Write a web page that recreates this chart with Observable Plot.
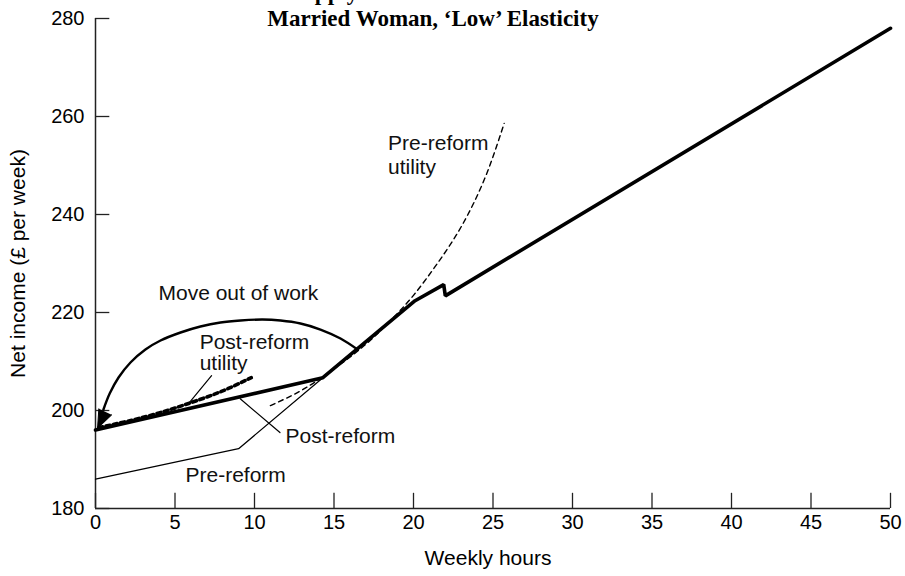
<!DOCTYPE html>
<html>
<head>
<meta charset="utf-8">
<script src="https://cdn.jsdelivr.net/npm/d3@7"></script>
<script src="https://cdn.jsdelivr.net/npm/@observablehq/plot@0.6"></script>
<style>
  html, body { margin: 0; padding: 0; background: #fff; }
  #wrap { position: relative; width: 905px; height: 576px; overflow: hidden; }
  #title { position: absolute; left: 0; top: -20px; width: 866px; text-align: center;
    font-family: "Liberation Serif", "Times New Roman", serif; font-weight: bold;
    font-size: 23px; line-height: 26px; color: #000; z-index: 2; }
</style>
</head>
<body>
<div id="wrap">
  <div id="title">Labour Supply Effects of the WFTC Reform:<br>Married Woman, ‘Low’ Elasticity</div>
  <div id="chart"></div>
</div>
<script>
// ---- data (weekly hours, net income £/week) ----
const xTicks = [0, 5, 10, 15, 20, 25, 30, 35, 40, 45, 50];
const yTicks = [180, 200, 220, 240, 260, 280];

const postReformBudget = [
  {h: 0, inc: 196.0}, {h: 14.3, inc: 206.7}, {h: 20.1, inc: 222.4},
  {h: 21.9, inc: 225.7}, {h: 22.0, inc: 223.4}, {h: 50, inc: 278.0}
];
const preReformBudget = [
  {h: 0, inc: 186.0}, {h: 9.0, inc: 192.2}, {h: 14.3, inc: 206.7}
];
const preReformUtility = [
  {h: 11.0, inc: 201.0}, {h: 13.0, inc: 204.2}, {h: 15.0, inc: 208.5},
  {h: 17.0, inc: 213.5}, {h: 18.6, inc: 218.5}, {h: 20.0, inc: 223.5},
  {h: 21.5, inc: 230.0}, {h: 23.0, inc: 237.5}, {h: 24.5, inc: 247.5},
  {h: 25.7, inc: 258.6}
];
const postReformUtility = [
  {h: 0.2, inc: 196.5}, {h: 2, inc: 197.8}, {h: 4, inc: 199.5},
  {h: 6, inc: 201.6}, {h: 8, inc: 204.0}, {h: 9.8, inc: 206.7}
];
const moveArc = [
  {h: 16.48, inc: 212.45}, {h: 15.41, inc: 214.69}, {h: 14.15, inc: 216.53},
  {h: 12.89, inc: 217.76}, {h: 11.64, inc: 218.37}, {h: 10.50, inc: 218.57},
  {h: 9.12, inc: 218.37}, {h: 7.86, inc: 217.96}, {h: 6.60, inc: 217.14},
  {h: 5.35, inc: 215.92}, {h: 4.09, inc: 214.29}, {h: 3.14, inc: 212.45},
  {h: 2.20, inc: 209.80}, {h: 1.45, inc: 206.73}, {h: 0.90, inc: 203.5},
  {h: 0.50, inc: 200.2}
];
const arrowTip = [{h: 0.13, inc: 196.4, angle: 205}];
const leaderPost = [{h: 9.1, inc: 202.4}, {h: 11.6, inc: 195.5}];
const leaderPostUtil = [{h: 7.3, inc: 207.1}, {h: 5.85, inc: 201.4}];

const annotations = [
  {h: 3.96, inc: 223.9, text: "Move out of work"},
  {h: 6.55, inc: 214.0, text: "Post-reform"},
  {h: 6.55, inc: 209.6, text: "utility"},
  {h: 11.95, inc: 194.8, text: "Post-reform"},
  {h: 5.66, inc: 186.7, text: "Pre-reform"},
  {h: 18.4, inc: 254.5, text: "Pre-reform"},
  {h: 18.4, inc: 249.6, text: "utility"}
];

const axisColor = "#222";

const chart = Plot.plot({
  width: 905,
  height: 576,
  marginLeft: 95,
  marginRight: 15,
  marginTop: 18,
  marginBottom: 68,
  style: {fontFamily: "'Liberation Sans', Arial, sans-serif", fontSize: "20px", color: "#000", background: "transparent"},
  x: {domain: [0, 50], label: null},
  y: {domain: [180, 280], label: null},
  marks: [
    Plot.axisX({ticks: xTicks, tickSize: 0, tickPadding: 6, fontSize: 20}),
    Plot.axisY({ticks: yTicks, tickSize: 0, tickPadding: 11, fontSize: 20}),
    Plot.ruleX([0], {stroke: axisColor, strokeWidth: 1.5}),
    Plot.ruleY([180], {stroke: axisColor, strokeWidth: 1.5}),
    Plot.ruleY(yTicks, {y: d => d, x1: 0, x2: 0.9, stroke: axisColor, strokeWidth: 1.3}),
    Plot.ruleX(xTicks, {x: d => d, y1: 180, y2: 183.1, stroke: axisColor, strokeWidth: 1.3}),
    Plot.text(["Net income (£ per week)"], {frameAnchor: "left", textAnchor: "middle", rotate: -90, dx: -77, fontSize: 21}),
    Plot.text(["Weekly hours"], {frameAnchor: "bottom", dy: 56, dx: -5, fontSize: 21}),
    // budget lines
    Plot.line(preReformBudget, {x: "h", y: "inc", stroke: "#000", strokeWidth: 1.3}),
    Plot.line(preReformUtility, {x: "h", y: "inc", stroke: "#000", strokeWidth: 1.4, strokeDasharray: "5,4", curve: "natural"}),
    Plot.line(postReformBudget, {x: "h", y: "inc", stroke: "#000", strokeWidth: 3.6, strokeLinejoin: "miter"}),
    Plot.line(postReformUtility, {x: "h", y: "inc", stroke: "#000", strokeWidth: 3.6, strokeDasharray: "4,3.5", curve: "natural"}),
    // move-out-of-work arrow
    Plot.line(moveArc, {x: "h", y: "inc", stroke: "#000", strokeWidth: 2.4, curve: "catmull-rom"}),
    Plot.vector(arrowTip, {x: "h", y: "inc", rotate: "angle", shape: "spike", anchor: "end", length: 18, r: 7, fill: "#000", stroke: "#000", strokeWidth: 1}),
    // leaders
    Plot.line(leaderPost, {x: "h", y: "inc", stroke: "#000", strokeWidth: 1.2}),
    Plot.line(leaderPostUtil, {x: "h", y: "inc", stroke: "#000", strokeWidth: 1.2}),
    // annotations
    Plot.text(annotations, {x: "h", y: "inc", text: "text", textAnchor: "start", fontSize: 21, fill: "#111"})
  ]
});
document.getElementById("chart").appendChild(chart);
</script>
</body>
</html>
